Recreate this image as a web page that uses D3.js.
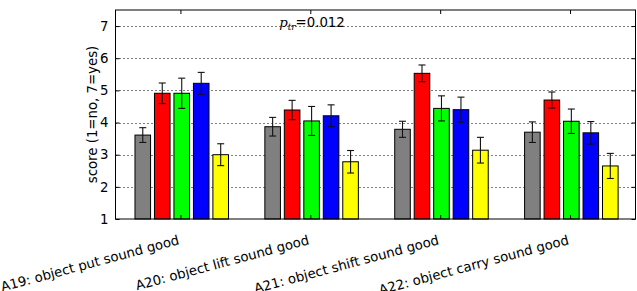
<!DOCTYPE html>
<html>
  <head>
    <meta charset="utf-8">
    <title>score chart</title>
    <style>
      body { margin: 0; background: #fff; }
      text { font-family: "DejaVu Sans", sans-serif; font-size: 13.3px; fill: #000; }
      .grid line { stroke: #000; stroke-width: 1; stroke-dasharray: 1,3; }
    </style>
  </head>
  <body>
    <div class="container"></div>
    <script src="https://cdn.jsdelivr.net/npm/d3@7"></script>
    <script>
    var width = 637;
    var height = 291;

    // data
    var categories = ["A19: object put sound good", "A20: object lift sound good",
                      "A21: object shift sound good", "A22: object carry sound good"];
    var colors = ["#808080", "#ff0000", "#00ff00", "#0000ff", "#ffff00"];
    var means = [
      [3.61, 4.91, 4.91, 5.22, 3.00],
      [3.87, 4.39, 4.05, 4.21, 2.78],
      [3.79, 5.53, 4.44, 4.40, 3.14],
      [3.70, 4.70, 4.04, 3.68, 2.65]
    ];
    var errors = [
      [0.23, 0.32, 0.47, 0.34, 0.34],
      [0.29, 0.30, 0.45, 0.34, 0.35],
      [0.25, 0.26, 0.39, 0.39, 0.40],
      [0.32, 0.25, 0.38, 0.35, 0.39]
    ];
    var yTicks = [1, 2, 3, 4, 5, 6, 7];
    var pText = "=0.012";

    var barStep = 0.15, barWidth = 0.12, tickOffset = 0.35;

    var svg = d3.select(".container")
        .append("svg")
        .attr("width", width)
        .attr("height", height);

    var x = d3.scaleLinear().domain([-0.15, 3.854]).range([115.5, 635.5]);
    var y = d3.scaleLinear().domain([1, 7.5]).range([219, 10]);

    // horizontal dotted grid
    svg.append("g").attr("class", "grid")
      .selectAll("line")
      .data(yTicks.slice(1))
      .enter().append("line")
      .attr("x1", x.range()[0]).attr("x2", x.range()[1])
      .attr("y1", function(d) { return Math.round(y(d)) + 0.5; })
      .attr("y2", function(d) { return Math.round(y(d)) + 0.5; });

    // flatten bars
    var bars = [];
    means.forEach(function(row, g) {
      row.forEach(function(v, j) {
        bars.push({ g: g, j: j, v: v, e: errors[g][j] });
      });
    });

    svg.selectAll(".bar")
      .data(bars)
      .enter().append("rect")
      .attr("class", "bar")
      .attr("x", function(d) { return x(d.g + d.j * barStep); })
      .attr("y", function(d) { return y(d.v); })
      .attr("width", x(barWidth) - x(0))
      .attr("height", function(d) { return y(1) - y(d.v); })
      .attr("fill", function(d) { return colors[d.j]; })
      .attr("stroke", "#000")
      .attr("stroke-width", 1);

    // error bars
    var eb = svg.selectAll(".err")
      .data(bars)
      .enter().append("g")
      .attr("class", "err")
      .attr("stroke", "#111")
      .attr("stroke-width", 1.1);
    function cx(d) { return x(d.g + d.j * barStep + barWidth / 2); }
    eb.append("line")
      .attr("x1", cx).attr("x2", cx)
      .attr("y1", function(d) { return y(d.v + d.e); })
      .attr("y2", function(d) { return y(d.v - d.e); });
    eb.append("line")
      .attr("x1", function(d) { return cx(d) - 3.5; })
      .attr("x2", function(d) { return cx(d) + 3.5; })
      .attr("y1", function(d) { return y(d.v + d.e); })
      .attr("y2", function(d) { return y(d.v + d.e); });
    eb.append("line")
      .attr("x1", function(d) { return cx(d) - 3.5; })
      .attr("x2", function(d) { return cx(d) + 3.5; })
      .attr("y1", function(d) { return y(d.v - d.e); })
      .attr("y2", function(d) { return y(d.v - d.e); });

    // axes, inward ticks like matplotlib
    var tickX = categories.map(function(c, i) { return i + tickOffset; });

    var axLeft = svg.append("g")
      .attr("transform", "translate(" + x.range()[0] + ",0)")
      .call(d3.axisLeft(y).tickValues(yTicks).tickSize(-4).tickPadding(7).tickFormat(d3.format("d")));
    var axRight = svg.append("g")
      .attr("transform", "translate(" + x.range()[1] + ",0)")
      .call(d3.axisRight(y).tickValues(yTicks).tickSize(-4).tickFormat(""));
    var axTop = svg.append("g")
      .attr("transform", "translate(0," + y.range()[1] + ")")
      .call(d3.axisTop(x).tickValues(tickX).tickSize(-4).tickFormat(""));
    var axBottom = svg.append("g")
      .attr("transform", "translate(0," + y.range()[0] + ")")
      .call(d3.axisBottom(x).tickValues(tickX).tickSize(-4).tickFormat(""));

    [axLeft, axRight, axTop, axBottom].forEach(function(a) {
      a.select(".domain").remove();
      a.selectAll("line").attr("stroke", "#000");
      a.selectAll("text").attr("font-family", "DejaVu Sans").attr("font-size", 13.3).attr("fill", "#000");
    });

    // frame
    svg.append("rect")
      .attr("x", x.range()[0]).attr("y", y.range()[1])
      .attr("width", x.range()[1] - x.range()[0])
      .attr("height", y.range()[0] - y.range()[1])
      .attr("fill", "none").attr("stroke", "#000").attr("stroke-width", 1);

    // category labels, rotated
    svg.selectAll(".xlab")
      .data(categories)
      .enter().append("text")
      .attr("class", "xlab")
      .attr("text-anchor", "end")
      .attr("transform", function(d, i) {
        return "translate(" + (x(tickX[i]) - 0.5) + ",244) rotate(-15)";
      })
      .text(function(d) { return d; });

    // y label
    svg.append("text")
      .attr("text-anchor", "middle")
      .attr("transform", "translate(96.5," + ((y.range()[0] + y.range()[1]) / 2) + ") rotate(-90)")
      .text("score (1=no, 7=yes)");

    // p value annotation
    var pt = svg.append("text")
      .attr("x", x(1.11))
      .attr("y", y(6.97));
    pt.append("tspan")
      .attr("font-family", "DejaVu Serif")
      .attr("font-style", "italic")
      .text("p");
    pt.append("tspan")
      .attr("font-family", "DejaVu Serif")
      .attr("font-style", "italic")
      .attr("font-size", 9)
      .attr("dy", 3)
      .text("tr");
    pt.append("tspan")
      .attr("dy", -3)
      .text(pText);
    </script>
  </body>
</html>
